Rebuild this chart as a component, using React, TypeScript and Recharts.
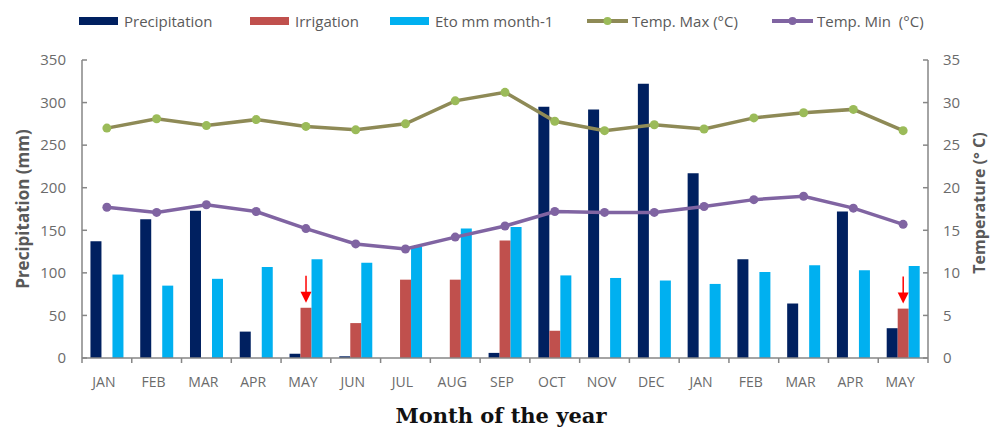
import React from 'react';
import { ComposedChart, Bar, Line, XAxis, YAxis, Legend } from 'recharts';

const months = ['JAN', 'FEB', 'MAR', 'APR', 'MAY', 'JUN', 'JUL', 'AUG', 'SEP', 'OCT', 'NOV', 'DEC', 'JAN', 'FEB', 'MAR', 'APR', 'MAY'];
const precipitation = [137, 163, 173, 31, 5, 2, 0, 0, 6, 295, 292, 322, 217, 116, 64, 172, 35];
const irrigation = [0, 0, 0, 0, 59, 41, 92, 92, 138, 32, 0, 0, 0, 0, 0, 0, 58];
const eto = [98, 85, 93, 107, 116, 112, 131, 152, 154, 97, 94, 91, 87, 101, 109, 103, 108];
const tempMax = [27.0, 28.1, 27.3, 28.0, 27.2, 26.8, 27.5, 30.2, 31.2, 27.8, 26.7, 27.4, 26.9, 28.2, 28.8, 29.2, 26.7];
const tempMin = [17.7, 17.1, 18.0, 17.2, 15.2, 13.4, 12.8, 14.2, 15.5, 17.2, 17.1, 17.1, 17.8, 18.6, 19.0, 17.6, 15.7];
const arrowIndices = [4, 16];
const precipTicks = [0, 50, 100, 150, 200, 250, 300, 350];
const tempTicks = [0, 5, 10, 15, 20, 25, 30, 35];

const data = months.map((m, i) => ({
  month: m,
  precipitation: precipitation[i],
  irrigation: irrigation[i],
  eto: eto[i],
  tempMax: tempMax[i],
  tempMin: tempMin[i],
}));

const FONT = '"Open Sans", "Noto Sans", sans-serif';
const AXIS = '#868686';
const TEXT = '#6b6b6b';
const C_PRE = '#002060';
const C_IRR = '#C0504D';
const C_ETO = '#00B0F0';
const C_MAX_LINE = '#8E8A56';
const C_MAX_DOT = '#9BBB59';
const C_MIN = '#8064A2';

const legendItems = [
  { label: 'Precipitation', type: 'bar', color: C_PRE, left: 79 },
  { label: 'Irrigation', type: 'bar', color: C_IRR, left: 250 },
  { label: 'Eto mm month-1', type: 'bar', color: C_ETO, left: 390 },
  { label: 'Temp. Max (°C)', type: 'line', color: C_MAX_LINE, dot: C_MAX_DOT, left: 587 },
  { label: 'Temp. Min  (°C)', type: 'line', color: C_MIN, dot: C_MIN, left: 772 },
];

const renderLegend = () => (
  <div style={{ position: 'relative', width: 990, height: 40 }}>
    {legendItems.map((it) => (
      <div key={it.label} style={{ position: 'absolute', left: it.left, top: 10, height: 22, display: 'flex', alignItems: 'center' }}>
        <svg width={41} height={12} style={{ display: 'block' }}>
          {it.type === 'bar' ? (
            <rect x={0} y={2} width={39} height={8} fill={it.color} />
          ) : (
            <g>
              <line x1={0} y1={6} x2={41} y2={6} stroke={it.color} strokeWidth={4} />
              <circle cx={20.5} cy={6} r={4} fill={it.dot} />
            </g>
          )}
        </svg>
        <span style={{ marginLeft: 4, fontFamily: FONT, fontSize: 15, color: '#5a5a5a', whiteSpace: 'pre' }}>{it.label}</span>
      </div>
    ))}
  </div>
);

const IrrigationShape = (props: any) => {
  const { x, y, width, height, index, fill } = props;
  const cx = x + width / 2;
  const tip = y - 5;
  return (
    <g>
      {height > 0 && <rect x={x} y={y} width={width} height={height} fill={fill} />}
      {arrowIndices.includes(index) && (
        <g>
          <line x1={cx} y1={tip - 27} x2={cx} y2={tip - 9} stroke="#FF0000" strokeWidth={1.5} />
          <polygon points={`${cx - 5.5},${tip - 11} ${cx + 5.5},${tip - 11} ${cx},${tip}`} fill="#FF0000" />
        </g>
      )}
    </g>
  );
};

const MonthTick = (props: any) => {
  const { x, y, payload, index } = props;
  const half = payload && payload.offset ? payload.offset : 0;
  const isLast = index === months.length - 1;
  return (
    <g>
      <line x1={x - half} y1={y} x2={x - half} y2={y + 5} stroke={AXIS} strokeWidth={1.5} />
      {isLast && <line x1={x + half} y1={y} x2={x + half} y2={y + 5} stroke={AXIS} strokeWidth={1.5} />}
      <text x={x - 3} y={y + 29} textAnchor="middle" fontFamily={FONT} fontSize={14} fill={TEXT}>{payload.value}</text>
    </g>
  );
};

const LeftTitle = (props: any) => {
  const vb = props.viewBox;
  const cx = vb.x + 2;
  const cy = vb.y + vb.height / 2;
  return (
    <text x={cx} y={cy} transform={`rotate(-90 ${cx} ${cy})`} textAnchor="middle" dominantBaseline="central"
      fontFamily={FONT} fontWeight={700} fontSize={17} fill="#595959">Precipitation (mm)</text>
  );
};

const RightTitle = (props: any) => {
  const vb = props.viewBox;
  const cx = vb.x + 51;
  const cy = vb.y + vb.height / 2 - 6;
  return (
    <text x={cx} y={cy} transform={`rotate(-90 ${cx} ${cy})`} textAnchor="middle" dominantBaseline="central"
      fontFamily={FONT} fontWeight={700} fontSize={16} fill="#595959">Temperature  (° C)</text>
  );
};

const BottomTitle = (props: any) => {
  const vb = props.viewBox;
  return (
    <text x={vb.x + vb.width / 2 - 4} y={vb.y + 65} textAnchor="middle"
      fontFamily='"DejaVu Serif", serif' fontWeight={700} fontSize={21} fill="#111">Month of the year</text>
  );
};

export default function App() {
  return (
    <div style={{ position: 'absolute', left: 0, top: 0, background: '#fff' }}>
      <ComposedChart
        width={990}
        height={432}
        data={data}
        margin={{ top: 60, right: 20, bottom: 0, left: 20 }}
        barCategoryGap="17%"
        barGap={0}
      >
        <XAxis
          xAxisId="cat"
          dataKey="month"
          height={74}
          tickLine={false}
          tickSize={0}
          tickMargin={0}
          axisLine={{ stroke: AXIS, strokeWidth: 1.5 }}
          tick={<MonthTick />}
          interval={0}
          label={<BottomTitle />}
        />
        <YAxis
          yAxisId="p"
          orientation="left"
          width={62}
          domain={[0, 350]}
          ticks={precipTicks}
          interval={0}
          tickSize={-5}
          tickMargin={21}
          axisLine={{ stroke: AXIS, strokeWidth: 1.5 }}
          tickLine={{ stroke: AXIS, strokeWidth: 1.5 }}
          tick={{ fontFamily: FONT, fontSize: 15, fill: TEXT }}
          label={<LeftTitle />}
        />
        <YAxis
          yAxisId="t"
          orientation="right"
          width={42}
          domain={[0, 35]}
          ticks={tempTicks}
          interval={0}
          tickSize={-5}
          tickMargin={20}
          axisLine={{ stroke: AXIS, strokeWidth: 1.5 }}
          tickLine={{ stroke: AXIS, strokeWidth: 1.5 }}
          tick={{ fontFamily: FONT, fontSize: 15, fill: TEXT }}
          label={<RightTitle />}
        />
        <Legend content={renderLegend} layout="horizontal" verticalAlign="middle" align="center"
          wrapperStyle={{ top: 0, left: 0, width: 990, height: 40 }} />
        <Bar xAxisId="cat" yAxisId="p" dataKey="precipitation" name="Precipitation" fill={C_PRE} isAnimationActive={false} />
        <Bar xAxisId="cat" yAxisId="p" dataKey="irrigation" name="Irrigation" fill={C_IRR} isAnimationActive={false} shape={<IrrigationShape />} />
        <Bar xAxisId="cat" yAxisId="p" dataKey="eto" name="Eto mm month-1" fill={C_ETO} isAnimationActive={false} />
        <Line xAxisId="cat" yAxisId="t" type="linear" dataKey="tempMax" name="Temp. Max (°C)" stroke={C_MAX_LINE} strokeWidth={3.5}
          dot={{ r: 4.5, fill: C_MAX_DOT, stroke: C_MAX_DOT, strokeWidth: 0 }} activeDot={false} isAnimationActive={false} />
        <Line xAxisId="cat" yAxisId="t" type="linear" dataKey="tempMin" name="Temp. Min  (°C)" stroke={C_MIN} strokeWidth={3.5}
          dot={{ r: 4.5, fill: C_MIN, stroke: C_MIN, strokeWidth: 0 }} activeDot={false} isAnimationActive={false} />
      </ComposedChart>
    </div>
  );
}
